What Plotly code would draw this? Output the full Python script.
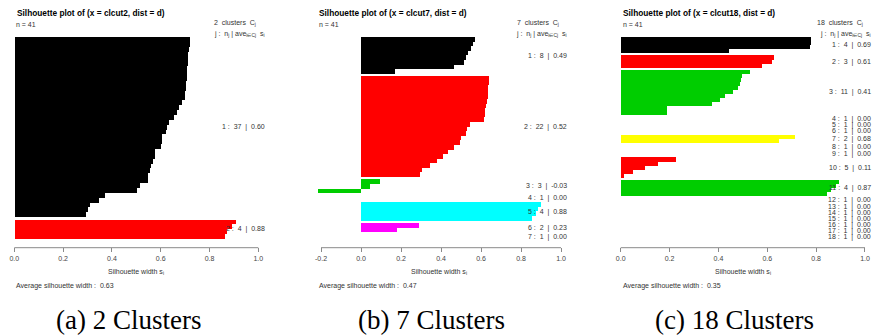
import plotly.graph_objects as go

W, H = 876, 335

# ---------------- data ----------------
titles = ["Silhouette plot of (x = clcut2, dist = d)",
          "Silhouette plot of (x = clcut7, dist = d)",
          "Silhouette plot of (x = clcut18, dist = d)"]
n_obs = 41
avg_widths = ["0.63", "0.47", "0.35"]
captions = ["(a) 2 Clusters", "(b) 7 Clusters", "(c) 18 Clusters"]
x_ticks_a = [0.0, 0.2, 0.4, 0.6, 0.8, 1.0]
x_ticks_b = [-0.2, 0.0, 0.2, 0.4, 0.6, 0.8, 1.0]
x_ticks_c = [0.0, 0.2, 0.4, 0.6, 0.8, 1.0]

a_clusters = [
    [0.720, 0.718, 0.714, 0.712, 0.710, 0.708, 0.706, 0.705, 0.704, 0.703,
     0.701, 0.699, 0.697, 0.685, 0.673, 0.663, 0.652, 0.631, 0.625, 0.620,
     0.604, 0.604, 0.600, 0.573, 0.573, 0.565, 0.560, 0.556, 0.546, 0.546,
     0.512, 0.499, 0.369, 0.347, 0.310, 0.302, 0.293],
    [0.905, 0.890, 0.870, 0.860],
]
a_avgs = [0.60, 0.88]

b_clusters = [
    [0.570, 0.558, 0.548, 0.535, 0.523, 0.512, 0.465, 0.167],
    [0.637, 0.636, 0.635, 0.634, 0.632, 0.628, 0.625, 0.620, 0.617, 0.615,
     0.545, 0.528, 0.525, 0.498, 0.492, 0.465, 0.433, 0.408, 0.378, 0.345,
     0.303, 0.292],
    [0.092, 0.042, -0.218],
    [0.0],
    [0.898, 0.885, 0.873, 0.855],
    [0.287, 0.178],
    [0.0],
]
b_avgs = [0.49, 0.52, -0.03, 0.00, 0.88, 0.23, 0.00]

c_clusters = [
    [0.779, 0.778, 0.776, 0.445],
    [0.627, 0.620, 0.577],
    [0.529, 0.495, 0.492, 0.488, 0.481, 0.460, 0.427, 0.406, 0.375, 0.191, 0.191],
    [0.0], [0.0], [0.0],
    [0.713, 0.648],
    [0.0], [0.0],
    [0.226, 0.154, 0.100, 0.048, 0.015],
    [0.894, 0.880, 0.862, 0.845],
    [0.0], [0.0], [0.0], [0.0], [0.0], [0.0], [0.0],
]
c_avgs = [0.69, 0.61, 0.41, 0.00, 0.00, 0.00, 0.68, 0.00, 0.00, 0.11, 0.87,
          0.00, 0.00, 0.00, 0.00, 0.00, 0.00, 0.00]

palette = ["#000000", "#FF0000", "#00CD00", "#0000FF",
           "#00FFFF", "#FF00FF", "#FFFF00", "#BEBEBE"]

# ---------------- layout geometry (pixels) ----------------
panels = [
    dict(clusters=a_clusters, avgs=a_avgs, ticks=x_ticks_a, x0=14.3, scale=244.0,
         rng=(-0.04, 1.04), title_x=15, left_x=14.3, cap_x=128.3),
    dict(clusters=b_clusters, avgs=b_avgs, ticks=x_ticks_b, x0=361.0, scale=200.0,
         rng=(-0.2673, 1.0487), title_x=316.7, left_x=317.0, cap_x=431.7),
    dict(clusters=c_clusters, avgs=c_avgs, ticks=x_ticks_c, x0=620.7, scale=244.3,
         rng=(-0.04, 1.04), title_x=620.7, left_x=620.7, cap_x=734.2),
]
plot_top, plot_bot = 29.2, 247.3

SANS = "Liberation Sans, Arial, sans-serif"
SERIF = "Liberation Serif, Times New Roman, serif"

fig = go.Figure()
annotations = []
shapes = []


def py(p):
    return 1 - p / H


for i, P in enumerate(panels):
    xa = "x" if i == 0 else f"x{i+1}"
    ya = "y" if i == 0 else f"y{i+1}"
    clusters = P["clusters"]
    K = len(clusters)
    N = sum(len(c) for c in clusters)
    T = N + 0.5 * (K - 1)

    ys, xs, cols, centers = [], [], [], []
    pos = 0.0
    for j, vals in enumerate(clusters):
        if j > 0:
            pos += 0.5
        start = pos
        for v in vals:
            ys.append(pos + 0.5)
            xs.append(v)
            cols.append(palette[j % 8])
            pos += 1
        centers.append((start + pos) / 2)

    fig.add_trace(go.Bar(x=xs, y=ys, orientation="h", width=1.0,
                         marker=dict(color=cols, line=dict(width=0)),
                         xaxis=xa, yaxis=ya, showlegend=False, hoverinfo="x"))

    r0, r1 = P["rng"]
    dom = [(P["x0"] + r0 * P["scale"]) / W, (P["x0"] + r1 * P["scale"]) / W]
    axname = "xaxis" if i == 0 else f"xaxis{i+1}"
    yname = "yaxis" if i == 0 else f"yaxis{i+1}"
    fig.update_layout(**{
        axname: dict(domain=dom, range=[r0, r1], anchor=ya,
                     tickvals=P["ticks"], ticktext=[f"{t:.1f}" for t in P["ticks"]],
                     ticks="outside", ticklen=4, tickcolor="#8a8a8a", tickwidth=1,
                     showline=False, showgrid=False, zeroline=False,
                     tickfont=dict(family=SANS, size=7, color="#444444")),
        yname: dict(domain=[py(plot_bot), py(plot_top)], range=[1.04 * T, -0.04 * T],
                    anchor=xa, visible=False, showgrid=False, zeroline=False),
    })

    # axis line from first to last tick
    shapes.append(dict(type="line", xref=xa, yref="paper",
                       x0=P["ticks"][0], x1=P["ticks"][-1],
                       y0=py(plot_bot + 0.4), y1=py(plot_bot + 0.4),
                       line=dict(color="#8a8a8a", width=1)))

    # cluster labels
    for j, vals in enumerate(clusters):
        lab = f"{j+1} :  {len(vals)}  |  {P['avgs'][j]:.2f}"
        annotations.append(dict(xref=xa, yref=ya, x=1.0, y=centers[j],
                                text=lab, showarrow=False, xanchor="right",
                                yanchor="middle", xshift=8.4,
                                font=dict(family=SANS, size=7, color="#333333")))

    # title, n, headers
    annotations.append(dict(xref="paper", yref="paper", x=P["title_x"] / W, y=py(13.3),
                            text=f"<b>{titles[i]}</b>", showarrow=False,
                            xanchor="left", yanchor="middle",
                            font=dict(family=SANS, size=8.3, color="#000000")))
    annotations.append(dict(xref="paper", yref="paper", x=P["left_x"] / W, y=py(25),
                            text=f"n = {n_obs}", showarrow=False,
                            xanchor="left", yanchor="middle",
                            font=dict(family=SANS, size=7, color="#333333")))
    x1px = P["x0"] + P["scale"]
    annotations.append(dict(xref="paper", yref="paper", x=x1px / W, y=py(23.3),
                            text=f"{K}  clusters  C<sub>j</sub>", showarrow=False,
                            xanchor="right", yanchor="middle",
                            font=dict(family=SANS, size=7, color="#333333")))
    annotations.append(dict(xref="paper", yref="paper", x=(x1px + 8.4) / W, y=py(34.3),
                            text="j :  n<sub>j</sub> | ave<sub>i∈Cj</sub>  s<sub>i</sub>",
                            showarrow=False, xanchor="right", yanchor="middle",
                            font=dict(family=SANS, size=7, color="#333333")))
    # axis title
    annotations.append(dict(xref="paper", yref="paper",
                            x=(dom[0] + dom[1]) / 2, y=py(271.7),
                            text="Silhouette width s<sub>i</sub>", showarrow=False,
                            xanchor="center", yanchor="middle",
                            font=dict(family=SANS, size=7, color="#333333")))
    annotations.append(dict(xref="paper", yref="paper", x=P["left_x"] / W, y=py(286),
                            text=f"Average silhouette width :  {avg_widths[i]}",
                            showarrow=False, xanchor="left", yanchor="middle",
                            font=dict(family=SANS, size=7, color="#333333")))
    annotations.append(dict(xref="paper", yref="paper", x=P["cap_x"] / W, y=py(320),
                            text=captions[i], showarrow=False,
                            xanchor="center", yanchor="middle",
                            font=dict(family=SERIF, size=27, color="#000000")))

fig.update_layout(width=W, height=H, margin=dict(l=0, r=0, t=0, b=0),
                  paper_bgcolor="white", plot_bgcolor="white",
                  bargap=0, annotations=annotations, shapes=shapes,
                  showlegend=False)

fig.write_html("out.html")
